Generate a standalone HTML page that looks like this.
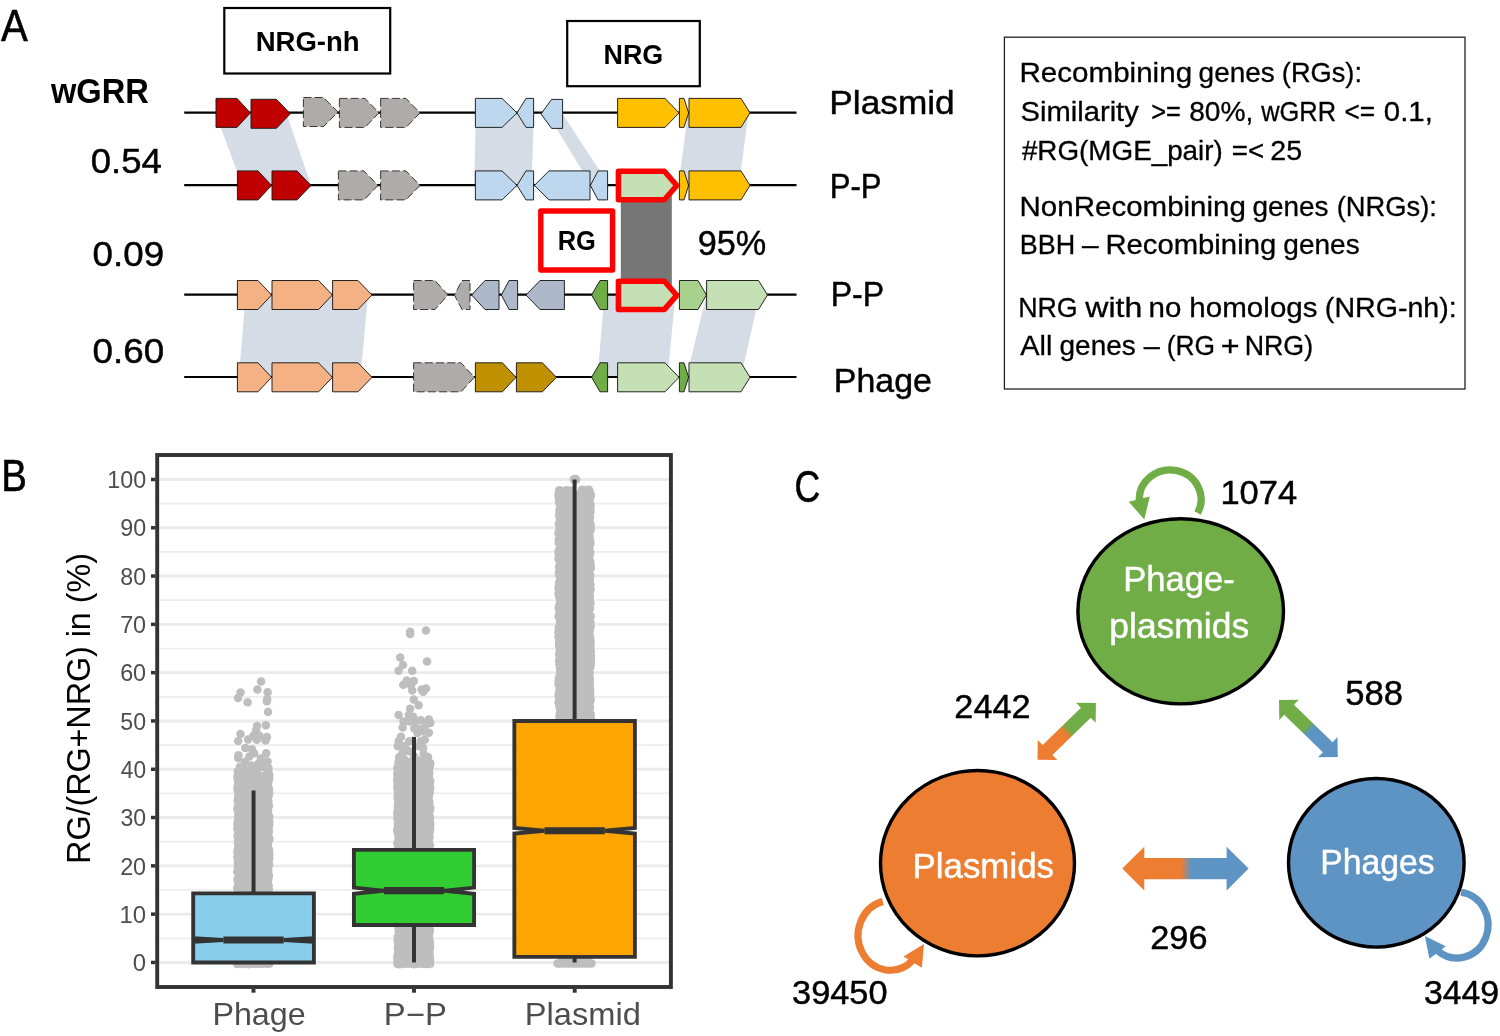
<!DOCTYPE html>
<html><head><meta charset="utf-8"><title>Figure</title>
<style>
html,body{margin:0;padding:0;background:#fff}
svg{display:block}
text{font-family:"Liberation Sans",sans-serif}
</style></head><body>
<svg width="1500" height="1036" viewBox="0 0 1500 1036">
<rect width="1500" height="1036" fill="#fff"/>
<polygon points="215.4,113 286.3,113 311,185 242,185" fill="#D6DCE5"/>
<polygon points="476,113 534,113 531.5,185 474,185" fill="#D6DCE5"/>
<polygon points="547,113 562,113 609,185 591,185" fill="#D6DCE5"/>
<polygon points="688,113 748.5,113 739,185 678.5,185" fill="#D6DCE5"/>
<polygon points="245.5,295 368,295 360.5,377 239,377" fill="#D6DCE5"/>
<polygon points="604.5,295 675.5,295 667.5,377 597.5,377" fill="#D6DCE5"/>
<polygon points="706.5,295 759.5,295 741,377 686.5,377" fill="#D6DCE5"/>
<rect x="620.8" y="190" width="51" height="100" fill="#767676"/>
<line x1="184.2" y1="112.6" x2="796.5" y2="112.6" stroke="#000" stroke-width="2.2"/>
<line x1="184.2" y1="185.1" x2="796.5" y2="185.1" stroke="#000" stroke-width="2.2"/>
<line x1="184.2" y1="294.7" x2="796.5" y2="294.7" stroke="#000" stroke-width="2.2"/>
<line x1="184.2" y1="377" x2="796.5" y2="377" stroke="#000" stroke-width="2.2"/>
<polygon points="216,98.4 237,98.4 250.4,112.9 237,127.4 216,127.4" fill="#C00000" stroke="#1a1a1a" stroke-width="0.95"/>
<polygon points="251,99.3 276.4,99.3 290.4,113.8 276.4,128.3 251,128.3" fill="#C00000" stroke="#1a1a1a" stroke-width="0.95"/>
<polygon points="303.4,97.5 323.6,97.5 338,112 323.6,126.5 303.4,126.5" fill="#AFABAB" stroke="#262626" stroke-width="0.9" stroke-dasharray="8 3.2"/>
<polygon points="339.4,98.4 365,98.4 379,112.9 365,127.4 339.4,127.4" fill="#AFABAB" stroke="#262626" stroke-width="0.9" stroke-dasharray="8 3.2"/>
<polygon points="380.6,98.4 406,98.4 420,112.9 406,127.4 380.6,127.4" fill="#AFABAB" stroke="#262626" stroke-width="0.9" stroke-dasharray="8 3.2"/>
<polygon points="475.4,98.4 502,98.4 517,112.9 502,127.4 475.4,127.4" fill="#BDD7EE" stroke="#1a1a1a" stroke-width="0.95"/>
<polygon points="533.6,98.4 526,98.4 517,112.9 526,127.4 533.6,127.4" fill="#BDD7EE" stroke="#1a1a1a" stroke-width="0.95"/>
<polygon points="562.6,99.4 551.6,99.4 541,113.9 551.6,128.4 562.6,128.4" fill="#BDD7EE" stroke="#1a1a1a" stroke-width="0.95"/>
<polygon points="617.6,98.4 665,98.4 679,112.9 665,127.4 617.6,127.4" fill="#FFC000" stroke="#1a1a1a" stroke-width="0.95"/>
<polygon points="679.4,98.4 684,98.4 688.6,112.9 684,127.4 679.4,127.4" fill="#FFC000" stroke="#1a1a1a" stroke-width="0.95"/>
<polygon points="689,98.4 741,98.4 750,112.9 741,127.4 689,127.4" fill="#FFC000" stroke="#1a1a1a" stroke-width="0.95"/>
<polygon points="237.4,170.9 258,170.9 271.6,185.4 258,199.9 237.4,199.9" fill="#C00000" stroke="#1a1a1a" stroke-width="0.95"/>
<polygon points="272,170.9 297,170.9 311,185.4 297,199.9 272,199.9" fill="#C00000" stroke="#1a1a1a" stroke-width="0.95"/>
<polygon points="338.4,170.9 364,170.9 378,185.4 364,199.9 338.4,199.9" fill="#AFABAB" stroke="#262626" stroke-width="0.9" stroke-dasharray="8 3.2"/>
<polygon points="380.6,170.9 406,170.9 420,185.4 406,199.9 380.6,199.9" fill="#AFABAB" stroke="#262626" stroke-width="0.9" stroke-dasharray="8 3.2"/>
<polygon points="475.4,170.9 502,170.9 517,185.4 502,199.9 475.4,199.9" fill="#BDD7EE" stroke="#1a1a1a" stroke-width="0.95"/>
<polygon points="533.6,170.9 526,170.9 517,185.4 526,199.9 533.6,199.9" fill="#BDD7EE" stroke="#1a1a1a" stroke-width="0.95"/>
<polygon points="590,170.9 549,170.9 534.4,185.4 549,199.9 590,199.9" fill="#BDD7EE" stroke="#1a1a1a" stroke-width="0.95"/>
<polygon points="607.6,170.9 598,170.9 590.4,185.4 598,199.9 607.6,199.9" fill="#BDD7EE" stroke="#1a1a1a" stroke-width="0.95"/>
<polygon points="679.4,170.9 684,170.9 688.6,185.4 684,199.9 679.4,199.9" fill="#FFC000" stroke="#1a1a1a" stroke-width="0.95"/>
<polygon points="689,170.9 741,170.9 750,185.4 741,199.9 689,199.9" fill="#FFC000" stroke="#1a1a1a" stroke-width="0.95"/>
<polygon points="618.4,171.3 664.4,171.3 676.8,185.55 664.4,199.8 618.4,199.8" fill="#C5E0B4" stroke="#FF0000" stroke-width="5.5" stroke-linejoin="round"/>
<polygon points="237.4,280.5 258,280.5 271.6,295 258,309.5 237.4,309.5" fill="#F4B183" stroke="#1a1a1a" stroke-width="0.95"/>
<polygon points="272,280.5 318.6,280.5 332.4,295 318.6,309.5 272,309.5" fill="#F4B183" stroke="#1a1a1a" stroke-width="0.95"/>
<polygon points="332.6,280.5 358,280.5 372,295 358,309.5 332.6,309.5" fill="#F4B183" stroke="#1a1a1a" stroke-width="0.95"/>
<polygon points="413.6,280.5 435,280.5 448,295 435,309.5 413.6,309.5" fill="#AFABAB" stroke="#262626" stroke-width="0.9" stroke-dasharray="8 3.2"/>
<polygon points="470,280.5 462,280.5 454.4,295 462,309.5 470,309.5" fill="#AFABAB" stroke="#262626" stroke-width="0.9" stroke-dasharray="8 3.2"/>
<polygon points="499,280.5 485,280.5 471.6,295 485,309.5 499,309.5" fill="#ADB9CA" stroke="#1a1a1a" stroke-width="0.95"/>
<polygon points="517.6,280.5 509,280.5 501.4,295 509,309.5 517.6,309.5" fill="#ADB9CA" stroke="#1a1a1a" stroke-width="0.95"/>
<polygon points="564.4,280.5 540,280.5 526,295 540,309.5 564.4,309.5" fill="#ADB9CA" stroke="#1a1a1a" stroke-width="0.95"/>
<polygon points="607.6,280.5 600,280.5 591.6,295 600,309.5 607.6,309.5" fill="#70AD47" stroke="#1a1a1a" stroke-width="0.95"/>
<polygon points="679.4,280.5 698,280.5 706.4,295 698,309.5 679.4,309.5" fill="#A9D18E" stroke="#1a1a1a" stroke-width="0.95"/>
<polygon points="706.6,280.5 758.5,280.5 767.5,295 758.5,309.5 706.6,309.5" fill="#C5E0B4" stroke="#1a1a1a" stroke-width="0.95"/>
<polygon points="618.4,281.3 664.4,281.3 676.8,295.35 664.4,309.4 618.4,309.4" fill="#C5E0B4" stroke="#FF0000" stroke-width="5.5" stroke-linejoin="round"/>
<polygon points="237.4,362.8 258,362.8 271.6,377.3 258,391.8 237.4,391.8" fill="#F4B183" stroke="#1a1a1a" stroke-width="0.95"/>
<polygon points="272,362.8 318.6,362.8 332.4,377.3 318.6,391.8 272,391.8" fill="#F4B183" stroke="#1a1a1a" stroke-width="0.95"/>
<polygon points="332.6,362.8 358,362.8 372,377.3 358,391.8 332.6,391.8" fill="#F4B183" stroke="#1a1a1a" stroke-width="0.95"/>
<polygon points="413.6,362.8 461,362.8 474.4,377.3 461,391.8 413.6,391.8" fill="#AFABAB" stroke="#262626" stroke-width="0.9" stroke-dasharray="8 3.2"/>
<polygon points="475.4,362.8 502.4,362.8 516,377.3 502.4,391.8 475.4,391.8" fill="#BF9000" stroke="#1a1a1a" stroke-width="0.95"/>
<polygon points="516.4,362.8 542.4,362.8 556.4,377.3 542.4,391.8 516.4,391.8" fill="#BF9000" stroke="#1a1a1a" stroke-width="0.95"/>
<polygon points="607.6,362.8 600,362.8 591.6,377.3 600,391.8 607.6,391.8" fill="#70AD47" stroke="#1a1a1a" stroke-width="0.95"/>
<polygon points="617.6,362.8 665,362.8 679,377.3 665,391.8 617.6,391.8" fill="#C5E0B4" stroke="#1a1a1a" stroke-width="0.95"/>
<polygon points="679.4,362.8 684,362.8 688.6,377.3 684,391.8 679.4,391.8" fill="#70AD47" stroke="#1a1a1a" stroke-width="0.95"/>
<polygon points="689,362.8 741,362.8 750,377.3 741,391.8 689,391.8" fill="#C5E0B4" stroke="#1a1a1a" stroke-width="0.95"/>
<rect x="224.3" y="8" width="165.9" height="65.5" fill="#fff" stroke="#000" stroke-width="2.2"/>
<rect x="567.2" y="21" width="132.6" height="65.2" fill="#fff" stroke="#000" stroke-width="2.2"/>
<rect x="540.8" y="211" width="71.8" height="59" fill="#fff" stroke="#FF0000" stroke-width="5.4" stroke-linejoin="round"/>
<rect x="1004.4" y="37.2" width="460.6" height="351.8" fill="#fff" stroke="#222" stroke-width="1.3"/>
<line x1="157.2" y1="962.45" x2="670.9" y2="962.45" stroke="#EBEBEB" stroke-width="2.9"/>
<line x1="157.2" y1="938.3" x2="670.9" y2="938.3" stroke="#EDEDED" stroke-width="1.7"/>
<line x1="157.2" y1="914.15" x2="670.9" y2="914.15" stroke="#EBEBEB" stroke-width="2.9"/>
<line x1="157.2" y1="890" x2="670.9" y2="890" stroke="#EDEDED" stroke-width="1.7"/>
<line x1="157.2" y1="865.85" x2="670.9" y2="865.85" stroke="#EBEBEB" stroke-width="2.9"/>
<line x1="157.2" y1="841.7" x2="670.9" y2="841.7" stroke="#EDEDED" stroke-width="1.7"/>
<line x1="157.2" y1="817.55" x2="670.9" y2="817.55" stroke="#EBEBEB" stroke-width="2.9"/>
<line x1="157.2" y1="793.4" x2="670.9" y2="793.4" stroke="#EDEDED" stroke-width="1.7"/>
<line x1="157.2" y1="769.25" x2="670.9" y2="769.25" stroke="#EBEBEB" stroke-width="2.9"/>
<line x1="157.2" y1="745.1" x2="670.9" y2="745.1" stroke="#EDEDED" stroke-width="1.7"/>
<line x1="157.2" y1="720.95" x2="670.9" y2="720.95" stroke="#EBEBEB" stroke-width="2.9"/>
<line x1="157.2" y1="696.8" x2="670.9" y2="696.8" stroke="#EDEDED" stroke-width="1.7"/>
<line x1="157.2" y1="672.65" x2="670.9" y2="672.65" stroke="#EBEBEB" stroke-width="2.9"/>
<line x1="157.2" y1="648.5" x2="670.9" y2="648.5" stroke="#EDEDED" stroke-width="1.7"/>
<line x1="157.2" y1="624.35" x2="670.9" y2="624.35" stroke="#EBEBEB" stroke-width="2.9"/>
<line x1="157.2" y1="600.2" x2="670.9" y2="600.2" stroke="#EDEDED" stroke-width="1.7"/>
<line x1="157.2" y1="576.05" x2="670.9" y2="576.05" stroke="#EBEBEB" stroke-width="2.9"/>
<line x1="157.2" y1="551.9" x2="670.9" y2="551.9" stroke="#EDEDED" stroke-width="1.7"/>
<line x1="157.2" y1="527.75" x2="670.9" y2="527.75" stroke="#EBEBEB" stroke-width="2.9"/>
<line x1="157.2" y1="503.6" x2="670.9" y2="503.6" stroke="#EDEDED" stroke-width="1.7"/>
<line x1="157.2" y1="479.45" x2="670.9" y2="479.45" stroke="#EBEBEB" stroke-width="2.9"/>
<rect x="236.75" y="772" width="33.1" height="191.6" fill="#BEBEBE"/>
<rect x="233.4" y="955" width="39.8" height="12.8" rx="3.5" fill="#BEBEBE"/>
<rect x="396.75" y="762" width="34.1" height="201.6" fill="#BEBEBE"/>
<rect x="393.4" y="955" width="40.8" height="12.8" rx="3.5" fill="#BEBEBE"/>
<rect x="557.95" y="492" width="33.5" height="230" fill="#BEBEBE"/>
<rect x="557.5" y="955" width="34" height="12.7" fill="#BEBEBE"/>
<g fill="#BEBEBE">
<circle cx="237.87" cy="771.3" r="4.25"/>
<circle cx="268.1" cy="771.14" r="4.25"/>
<circle cx="238.28" cy="774.33" r="4.25"/>
<circle cx="269.24" cy="774.61" r="4.25"/>
<circle cx="237.32" cy="777.07" r="4.25"/>
<circle cx="269.22" cy="776.38" r="4.25"/>
<circle cx="238.07" cy="780.45" r="4.25"/>
<circle cx="269.11" cy="779.25" r="4.25"/>
<circle cx="238.45" cy="783.3" r="4.25"/>
<circle cx="268.24" cy="782.19" r="4.25"/>
<circle cx="239.12" cy="784.09" r="4.25"/>
<circle cx="267.7" cy="784.58" r="4.25"/>
<circle cx="237.53" cy="786.84" r="4.25"/>
<circle cx="268.76" cy="788.23" r="4.25"/>
<circle cx="237.6" cy="790.36" r="4.25"/>
<circle cx="268.12" cy="789.94" r="4.25"/>
<circle cx="238.3" cy="791.93" r="4.25"/>
<circle cx="269.24" cy="792.21" r="4.25"/>
<circle cx="238.56" cy="795.26" r="4.25"/>
<circle cx="268.75" cy="795.57" r="4.25"/>
<circle cx="238.12" cy="797.6" r="4.25"/>
<circle cx="267.82" cy="798.4" r="4.25"/>
<circle cx="237.72" cy="800.75" r="4.25"/>
<circle cx="268.34" cy="801.35" r="4.25"/>
<circle cx="238.65" cy="802.78" r="4.25"/>
<circle cx="267.47" cy="802.44" r="4.25"/>
<circle cx="238.05" cy="806.31" r="4.25"/>
<circle cx="269.06" cy="805.78" r="4.25"/>
<circle cx="237.33" cy="808.74" r="4.25"/>
<circle cx="267.88" cy="808.55" r="4.25"/>
<circle cx="238.93" cy="810.63" r="4.25"/>
<circle cx="268.02" cy="811.19" r="4.25"/>
<circle cx="238.36" cy="813.51" r="4.25"/>
<circle cx="267.74" cy="814.49" r="4.25"/>
<circle cx="238.16" cy="816.53" r="4.25"/>
<circle cx="269.23" cy="816.6" r="4.25"/>
<circle cx="238.49" cy="819.79" r="4.25"/>
<circle cx="267.77" cy="818.37" r="4.25"/>
<circle cx="237.99" cy="821.74" r="4.25"/>
<circle cx="269.31" cy="821.32" r="4.25"/>
<circle cx="237.57" cy="823.23" r="4.25"/>
<circle cx="269.24" cy="824.54" r="4.25"/>
<circle cx="237.5" cy="826.1" r="4.25"/>
<circle cx="268.6" cy="827.34" r="4.25"/>
<circle cx="237.4" cy="829.1" r="4.25"/>
<circle cx="268.3" cy="829.97" r="4.25"/>
<circle cx="238.82" cy="832.53" r="4.25"/>
<circle cx="268.82" cy="831.63" r="4.25"/>
<circle cx="237.94" cy="835.17" r="4.25"/>
<circle cx="267.51" cy="833.7" r="4.25"/>
<circle cx="237.59" cy="836.46" r="4.25"/>
<circle cx="268.9" cy="836.97" r="4.25"/>
<circle cx="238.38" cy="839.13" r="4.25"/>
<circle cx="269.34" cy="839.44" r="4.25"/>
<circle cx="237.96" cy="842.33" r="4.25"/>
<circle cx="267.52" cy="842.58" r="4.25"/>
<circle cx="238.24" cy="845.04" r="4.25"/>
<circle cx="268.05" cy="843.91" r="4.25"/>
<circle cx="238.98" cy="847.96" r="4.25"/>
<circle cx="267.67" cy="848" r="4.25"/>
<circle cx="238" cy="849.8" r="4.25"/>
<circle cx="269.15" cy="850.27" r="4.25"/>
<circle cx="237.37" cy="851.73" r="4.25"/>
<circle cx="268.95" cy="851.92" r="4.25"/>
<circle cx="237.9" cy="854.31" r="4.25"/>
<circle cx="269.35" cy="854.5" r="4.25"/>
<circle cx="237.44" cy="857.53" r="4.25"/>
<circle cx="269.3" cy="858.55" r="4.25"/>
<circle cx="238.43" cy="859.7" r="4.25"/>
<circle cx="268.87" cy="860.09" r="4.25"/>
<circle cx="237.95" cy="862.25" r="4.25"/>
<circle cx="267.72" cy="863.99" r="4.25"/>
<circle cx="238.14" cy="865.57" r="4.25"/>
<circle cx="269.19" cy="864.8" r="4.25"/>
<circle cx="237.91" cy="867.73" r="4.25"/>
<circle cx="267.76" cy="867.52" r="4.25"/>
<circle cx="237.29" cy="871.7" r="4.25"/>
<circle cx="268.34" cy="870.09" r="4.25"/>
<circle cx="238.29" cy="872.45" r="4.25"/>
<circle cx="268.34" cy="874.36" r="4.25"/>
<circle cx="238.91" cy="876.39" r="4.25"/>
<circle cx="268.85" cy="875.73" r="4.25"/>
<circle cx="237.57" cy="879.14" r="4.25"/>
<circle cx="268.33" cy="879.16" r="4.25"/>
<circle cx="237.88" cy="880.65" r="4.25"/>
<circle cx="267.79" cy="882.17" r="4.25"/>
<circle cx="238.89" cy="884.41" r="4.25"/>
<circle cx="267.78" cy="884.28" r="4.25"/>
<circle cx="237.69" cy="886.44" r="4.25"/>
<circle cx="268.67" cy="885.46" r="4.25"/>
<circle cx="237.3" cy="888.56" r="4.25"/>
<circle cx="268.85" cy="889.39" r="4.25"/>
<circle cx="239.09" cy="891.49" r="4.25"/>
<circle cx="267.55" cy="892.58" r="4.25"/>
<circle cx="239.08" cy="893.93" r="4.25"/>
<circle cx="268.93" cy="893.65" r="4.25"/>
<circle cx="237.63" cy="896.21" r="4.25"/>
<circle cx="268.15" cy="897.6" r="4.25"/>
<circle cx="238.86" cy="899.36" r="4.25"/>
<circle cx="268.1" cy="900" r="4.25"/>
<circle cx="237.41" cy="902.32" r="4.25"/>
<circle cx="267.6" cy="902.56" r="4.25"/>
<circle cx="238.69" cy="904.56" r="4.25"/>
<circle cx="269.01" cy="905.18" r="4.25"/>
<circle cx="237.89" cy="907.8" r="4.25"/>
<circle cx="267.48" cy="906.99" r="4.25"/>
<circle cx="238.02" cy="910.69" r="4.25"/>
<circle cx="267.96" cy="909.14" r="4.25"/>
<circle cx="237.49" cy="911.7" r="4.25"/>
<circle cx="267.61" cy="913.01" r="4.25"/>
<circle cx="237.53" cy="915.65" r="4.25"/>
<circle cx="267.47" cy="915.31" r="4.25"/>
<circle cx="237.92" cy="917.7" r="4.25"/>
<circle cx="269.1" cy="916.63" r="4.25"/>
<circle cx="239.11" cy="920.5" r="4.25"/>
<circle cx="268.34" cy="921.07" r="4.25"/>
<circle cx="238.08" cy="923.54" r="4.25"/>
<circle cx="267.76" cy="922.22" r="4.25"/>
<circle cx="237.73" cy="924.99" r="4.25"/>
<circle cx="268.89" cy="925.57" r="4.25"/>
<circle cx="237.75" cy="927.84" r="4.25"/>
<circle cx="269.1" cy="928.82" r="4.25"/>
<circle cx="237.93" cy="930.52" r="4.25"/>
<circle cx="268.23" cy="931.41" r="4.25"/>
<circle cx="238.06" cy="934.04" r="4.25"/>
<circle cx="268.39" cy="933.26" r="4.25"/>
<circle cx="238.26" cy="934.84" r="4.25"/>
<circle cx="268.5" cy="935.17" r="4.25"/>
<circle cx="237.26" cy="939" r="4.25"/>
<circle cx="269.02" cy="938.35" r="4.25"/>
<circle cx="238.64" cy="941.11" r="4.25"/>
<circle cx="268.72" cy="941.04" r="4.25"/>
<circle cx="238.32" cy="944.17" r="4.25"/>
<circle cx="269.15" cy="943.72" r="4.25"/>
<circle cx="237.73" cy="945.75" r="4.25"/>
<circle cx="267.87" cy="946.22" r="4.25"/>
<circle cx="238.33" cy="949.32" r="4.25"/>
<circle cx="267.6" cy="948.69" r="4.25"/>
<circle cx="238.43" cy="951.41" r="4.25"/>
<circle cx="268.37" cy="951.79" r="4.25"/>
<circle cx="238.12" cy="954.07" r="4.25"/>
<circle cx="268.43" cy="954.88" r="4.25"/>
<circle cx="238.59" cy="957.35" r="4.25"/>
<circle cx="267.54" cy="956.12" r="4.25"/>
<circle cx="238.32" cy="960.09" r="4.25"/>
<circle cx="267.74" cy="958.47" r="4.25"/>
<circle cx="237.48" cy="961.68" r="4.25"/>
<circle cx="269.21" cy="961.28" r="4.25"/>
<circle cx="237.15" cy="964" r="4.25"/>
<circle cx="238.85" cy="771.49" r="4.25"/>
<circle cx="242.31" cy="964.04" r="4.25"/>
<circle cx="243.48" cy="767.71" r="4.25"/>
<circle cx="248.77" cy="964.27" r="4.25"/>
<circle cx="247.16" cy="771.76" r="4.25"/>
<circle cx="252.8" cy="963.84" r="4.25"/>
<circle cx="254.47" cy="771.16" r="4.25"/>
<circle cx="257.32" cy="963.79" r="4.25"/>
<circle cx="258.05" cy="768.7" r="4.25"/>
<circle cx="262.39" cy="963.69" r="4.25"/>
<circle cx="263.67" cy="767.1" r="4.25"/>
<circle cx="268.11" cy="963.8" r="4.25"/>
<circle cx="266.55" cy="768.66" r="4.25"/>
<circle cx="261.1" cy="681.6" r="4.25"/>
<circle cx="257.4" cy="689.5" r="4.25"/>
<circle cx="267.6" cy="692.2" r="4.25"/>
<circle cx="240.5" cy="692.4" r="4.25"/>
<circle cx="238.1" cy="698.1" r="4.25"/>
<circle cx="247.6" cy="702.3" r="4.25"/>
<circle cx="267.2" cy="699.2" r="4.25"/>
<circle cx="266.9" cy="701.2" r="4.25"/>
<circle cx="268" cy="712" r="4.25"/>
<circle cx="265.9" cy="725.3" r="4.25"/>
<circle cx="257" cy="725.9" r="4.25"/>
<circle cx="256.1" cy="730.3" r="4.25"/>
<circle cx="240.5" cy="734.1" r="4.25"/>
<circle cx="253.4" cy="735.7" r="4.25"/>
<circle cx="259.5" cy="735.7" r="4.25"/>
<circle cx="266.9" cy="737" r="4.25"/>
<circle cx="238.2" cy="741.1" r="4.25"/>
<circle cx="248" cy="739.5" r="4.25"/>
<circle cx="256.8" cy="739.7" r="4.25"/>
<circle cx="265.5" cy="740.4" r="4.25"/>
<circle cx="245.3" cy="748.1" r="4.25"/>
<circle cx="252" cy="749.2" r="4.25"/>
<circle cx="238.5" cy="755.3" r="4.25"/>
<circle cx="238.1" cy="758" r="4.25"/>
<circle cx="249.3" cy="756.6" r="4.25"/>
<circle cx="254.1" cy="753.2" r="4.25"/>
<circle cx="266.2" cy="753.2" r="4.25"/>
<circle cx="267.6" cy="761.4" r="4.25"/>
<circle cx="260.8" cy="758.6" r="4.25"/>
<circle cx="239.9" cy="766.8" r="4.25"/>
<circle cx="251.4" cy="765.4" r="4.25"/>
<circle cx="258.1" cy="764.1" r="4.25"/>
<circle cx="245" cy="762" r="4.25"/>
<circle cx="264" cy="766" r="4.25"/>
<circle cx="242" cy="770" r="4.25"/>
<circle cx="268.5" cy="768" r="4.25"/>
<circle cx="398.45" cy="762.02" r="4.25"/>
<circle cx="430.23" cy="762.97" r="4.25"/>
<circle cx="398.76" cy="765.54" r="4.25"/>
<circle cx="430.15" cy="764.13" r="4.25"/>
<circle cx="397.33" cy="767.76" r="4.25"/>
<circle cx="429.83" cy="766.46" r="4.25"/>
<circle cx="398.06" cy="770.62" r="4.25"/>
<circle cx="428.78" cy="769.32" r="4.25"/>
<circle cx="397.54" cy="773.24" r="4.25"/>
<circle cx="429.25" cy="772.8" r="4.25"/>
<circle cx="397.42" cy="774.12" r="4.25"/>
<circle cx="429.03" cy="774.85" r="4.25"/>
<circle cx="397.39" cy="778.48" r="4.25"/>
<circle cx="429.13" cy="778.2" r="4.25"/>
<circle cx="397.41" cy="780.91" r="4.25"/>
<circle cx="430.22" cy="780.93" r="4.25"/>
<circle cx="398.12" cy="782.48" r="4.25"/>
<circle cx="429.29" cy="783.65" r="4.25"/>
<circle cx="397.76" cy="784.66" r="4.25"/>
<circle cx="429.34" cy="784.88" r="4.25"/>
<circle cx="397.46" cy="787.32" r="4.25"/>
<circle cx="430.25" cy="787.4" r="4.25"/>
<circle cx="397.85" cy="790.21" r="4.25"/>
<circle cx="428.89" cy="790.18" r="4.25"/>
<circle cx="398.21" cy="792.56" r="4.25"/>
<circle cx="429.68" cy="792.24" r="4.25"/>
<circle cx="397.73" cy="794.83" r="4.25"/>
<circle cx="428.94" cy="795.9" r="4.25"/>
<circle cx="397.61" cy="798.35" r="4.25"/>
<circle cx="428.56" cy="797.61" r="4.25"/>
<circle cx="398.82" cy="800.86" r="4.25"/>
<circle cx="429.4" cy="801.67" r="4.25"/>
<circle cx="398" cy="803.61" r="4.25"/>
<circle cx="429.03" cy="804.56" r="4.25"/>
<circle cx="397.91" cy="806.86" r="4.25"/>
<circle cx="428.99" cy="806.47" r="4.25"/>
<circle cx="398.03" cy="808.5" r="4.25"/>
<circle cx="430.25" cy="808.06" r="4.25"/>
<circle cx="397.39" cy="811.88" r="4.25"/>
<circle cx="429.86" cy="810.73" r="4.25"/>
<circle cx="397.41" cy="814.68" r="4.25"/>
<circle cx="428.68" cy="814.34" r="4.25"/>
<circle cx="397.79" cy="816.08" r="4.25"/>
<circle cx="429.79" cy="816.52" r="4.25"/>
<circle cx="397.55" cy="819.09" r="4.25"/>
<circle cx="429.84" cy="820.12" r="4.25"/>
<circle cx="399.12" cy="821.89" r="4.25"/>
<circle cx="429.88" cy="822.73" r="4.25"/>
<circle cx="397.84" cy="824.11" r="4.25"/>
<circle cx="430.35" cy="824.16" r="4.25"/>
<circle cx="398.16" cy="827.01" r="4.25"/>
<circle cx="429.96" cy="827.01" r="4.25"/>
<circle cx="397.26" cy="829.13" r="4.25"/>
<circle cx="430.18" cy="829.4" r="4.25"/>
<circle cx="397.33" cy="831.24" r="4.25"/>
<circle cx="429.77" cy="831.67" r="4.25"/>
<circle cx="398.37" cy="834.86" r="4.25"/>
<circle cx="428.91" cy="835.12" r="4.25"/>
<circle cx="398.62" cy="838.16" r="4.25"/>
<circle cx="429.6" cy="837.05" r="4.25"/>
<circle cx="399.14" cy="839.3" r="4.25"/>
<circle cx="428.96" cy="840.29" r="4.25"/>
<circle cx="397.33" cy="843.27" r="4.25"/>
<circle cx="428.64" cy="842.85" r="4.25"/>
<circle cx="398.66" cy="845.82" r="4.25"/>
<circle cx="430.08" cy="845.25" r="4.25"/>
<circle cx="398.22" cy="848.47" r="4.25"/>
<circle cx="428.81" cy="848.45" r="4.25"/>
<circle cx="398.37" cy="851.19" r="4.25"/>
<circle cx="429.04" cy="850.79" r="4.25"/>
<circle cx="397.69" cy="852.06" r="4.25"/>
<circle cx="430.09" cy="852.72" r="4.25"/>
<circle cx="397.45" cy="856.27" r="4.25"/>
<circle cx="429.28" cy="855.86" r="4.25"/>
<circle cx="398.45" cy="858.56" r="4.25"/>
<circle cx="429.41" cy="857.21" r="4.25"/>
<circle cx="398.78" cy="861.3" r="4.25"/>
<circle cx="429.38" cy="860.87" r="4.25"/>
<circle cx="398.52" cy="862.53" r="4.25"/>
<circle cx="428.94" cy="862.9" r="4.25"/>
<circle cx="397.39" cy="865.53" r="4.25"/>
<circle cx="428.95" cy="865.41" r="4.25"/>
<circle cx="398.67" cy="869.55" r="4.25"/>
<circle cx="429.4" cy="868.37" r="4.25"/>
<circle cx="398.17" cy="871.57" r="4.25"/>
<circle cx="428.88" cy="871.43" r="4.25"/>
<circle cx="398.48" cy="872.95" r="4.25"/>
<circle cx="430.07" cy="873.31" r="4.25"/>
<circle cx="398.68" cy="876.01" r="4.25"/>
<circle cx="429.26" cy="875.42" r="4.25"/>
<circle cx="397.37" cy="878.54" r="4.25"/>
<circle cx="429.06" cy="879.38" r="4.25"/>
<circle cx="398.55" cy="881.18" r="4.25"/>
<circle cx="429.36" cy="881.53" r="4.25"/>
<circle cx="398.15" cy="883.44" r="4.25"/>
<circle cx="428.63" cy="883.6" r="4.25"/>
<circle cx="399.13" cy="887.67" r="4.25"/>
<circle cx="430.32" cy="886.72" r="4.25"/>
<circle cx="398.82" cy="890.34" r="4.25"/>
<circle cx="429.49" cy="888.94" r="4.25"/>
<circle cx="397.65" cy="892.89" r="4.25"/>
<circle cx="429.95" cy="892.16" r="4.25"/>
<circle cx="397.52" cy="894.65" r="4.25"/>
<circle cx="428.52" cy="893.87" r="4.25"/>
<circle cx="398.82" cy="897.22" r="4.25"/>
<circle cx="428.65" cy="897.61" r="4.25"/>
<circle cx="397.69" cy="900.6" r="4.25"/>
<circle cx="429.42" cy="898.85" r="4.25"/>
<circle cx="397.26" cy="902.38" r="4.25"/>
<circle cx="429.48" cy="902" r="4.25"/>
<circle cx="397.52" cy="904.69" r="4.25"/>
<circle cx="429.74" cy="905.68" r="4.25"/>
<circle cx="397.25" cy="908.1" r="4.25"/>
<circle cx="428.74" cy="906.84" r="4.25"/>
<circle cx="399.03" cy="910.63" r="4.25"/>
<circle cx="428.62" cy="909.78" r="4.25"/>
<circle cx="397.96" cy="912.59" r="4.25"/>
<circle cx="428.43" cy="912.98" r="4.25"/>
<circle cx="397.94" cy="915.26" r="4.25"/>
<circle cx="429.82" cy="914.5" r="4.25"/>
<circle cx="397.45" cy="918.67" r="4.25"/>
<circle cx="429.8" cy="918.87" r="4.25"/>
<circle cx="397.73" cy="920.13" r="4.25"/>
<circle cx="429.37" cy="919.98" r="4.25"/>
<circle cx="397.97" cy="924.11" r="4.25"/>
<circle cx="428.65" cy="923.82" r="4.25"/>
<circle cx="398.46" cy="926.63" r="4.25"/>
<circle cx="428.54" cy="925.9" r="4.25"/>
<circle cx="398.63" cy="927.5" r="4.25"/>
<circle cx="428.94" cy="928.3" r="4.25"/>
<circle cx="398.7" cy="931.29" r="4.25"/>
<circle cx="429.8" cy="930.1" r="4.25"/>
<circle cx="399.03" cy="932.85" r="4.25"/>
<circle cx="429.44" cy="933.29" r="4.25"/>
<circle cx="397.82" cy="936.68" r="4.25"/>
<circle cx="428.48" cy="935.72" r="4.25"/>
<circle cx="398.51" cy="938.4" r="4.25"/>
<circle cx="429.28" cy="938.59" r="4.25"/>
<circle cx="397.57" cy="940.72" r="4.25"/>
<circle cx="429.95" cy="942.21" r="4.25"/>
<circle cx="398.2" cy="943.44" r="4.25"/>
<circle cx="428.61" cy="944.99" r="4.25"/>
<circle cx="398.11" cy="945.88" r="4.25"/>
<circle cx="429.98" cy="945.78" r="4.25"/>
<circle cx="397.91" cy="948.38" r="4.25"/>
<circle cx="429.89" cy="948.72" r="4.25"/>
<circle cx="398.34" cy="952.57" r="4.25"/>
<circle cx="428.91" cy="951.63" r="4.25"/>
<circle cx="398.04" cy="954.45" r="4.25"/>
<circle cx="429.63" cy="954.08" r="4.25"/>
<circle cx="397.37" cy="956.56" r="4.25"/>
<circle cx="428.49" cy="956.25" r="4.25"/>
<circle cx="398.22" cy="959.86" r="4.25"/>
<circle cx="428.69" cy="959.03" r="4.25"/>
<circle cx="397.77" cy="961.7" r="4.25"/>
<circle cx="429.58" cy="962.09" r="4.25"/>
<circle cx="398.91" cy="964.16" r="4.25"/>
<circle cx="399.12" cy="757.11" r="4.25"/>
<circle cx="402.06" cy="964.04" r="4.25"/>
<circle cx="404.19" cy="759.37" r="4.25"/>
<circle cx="408.17" cy="963.4" r="4.25"/>
<circle cx="407.67" cy="761.63" r="4.25"/>
<circle cx="413.65" cy="964.17" r="4.25"/>
<circle cx="414.42" cy="758.24" r="4.25"/>
<circle cx="417.22" cy="963.54" r="4.25"/>
<circle cx="418.07" cy="760.41" r="4.25"/>
<circle cx="423.88" cy="964.05" r="4.25"/>
<circle cx="423.44" cy="760.82" r="4.25"/>
<circle cx="427.91" cy="963.9" r="4.25"/>
<circle cx="426.62" cy="760.91" r="4.25"/>
<circle cx="410.1" cy="631.7" r="4.25"/>
<circle cx="410.1" cy="634" r="4.25"/>
<circle cx="426" cy="630.5" r="4.25"/>
<circle cx="400.2" cy="657.6" r="4.25"/>
<circle cx="427" cy="661.4" r="4.25"/>
<circle cx="403" cy="665" r="4.25"/>
<circle cx="398.6" cy="670.7" r="4.25"/>
<circle cx="412.2" cy="670.7" r="4.25"/>
<circle cx="406.8" cy="680.6" r="4.25"/>
<circle cx="413.8" cy="680.9" r="4.25"/>
<circle cx="403.2" cy="684.7" r="4.25"/>
<circle cx="410.9" cy="685.5" r="4.25"/>
<circle cx="412.2" cy="690.4" r="4.25"/>
<circle cx="421.6" cy="689.6" r="4.25"/>
<circle cx="426" cy="688.5" r="4.25"/>
<circle cx="423.2" cy="691.7" r="4.25"/>
<circle cx="413.8" cy="699.5" r="4.25"/>
<circle cx="418.6" cy="705.2" r="4.25"/>
<circle cx="410.1" cy="708.8" r="4.25"/>
<circle cx="398.6" cy="715.1" r="4.25"/>
<circle cx="408.9" cy="715.1" r="4.25"/>
<circle cx="413.3" cy="716.7" r="4.25"/>
<circle cx="403.5" cy="721.6" r="4.25"/>
<circle cx="409.2" cy="721.6" r="4.25"/>
<circle cx="415" cy="721.6" r="4.25"/>
<circle cx="420.7" cy="720.3" r="4.25"/>
<circle cx="428.9" cy="719.6" r="4.25"/>
<circle cx="430.3" cy="722.9" r="4.25"/>
<circle cx="425.7" cy="724.9" r="4.25"/>
<circle cx="402.7" cy="727.4" r="4.25"/>
<circle cx="414.2" cy="728.2" r="4.25"/>
<circle cx="419.1" cy="729" r="4.25"/>
<circle cx="424" cy="731.5" r="4.25"/>
<circle cx="428.9" cy="732.8" r="4.25"/>
<circle cx="417.5" cy="733.1" r="4.25"/>
<circle cx="401" cy="736.7" r="4.25"/>
<circle cx="398.6" cy="741.3" r="4.25"/>
<circle cx="409.2" cy="741.3" r="4.25"/>
<circle cx="424.8" cy="739.7" r="4.25"/>
<circle cx="420.7" cy="741.3" r="4.25"/>
<circle cx="397.8" cy="746.2" r="4.25"/>
<circle cx="402.7" cy="752.8" r="4.25"/>
<circle cx="409.2" cy="751.2" r="4.25"/>
<circle cx="423.2" cy="747.9" r="4.25"/>
<circle cx="423.7" cy="754.1" r="4.25"/>
<circle cx="419.1" cy="746.2" r="4.25"/>
<circle cx="400" cy="757" r="4.25"/>
<circle cx="428" cy="757" r="4.25"/>
<circle cx="405" cy="746" r="4.25"/>
<circle cx="414" cy="756" r="4.25"/>
<circle cx="558.9" cy="492.84" r="4.25"/>
<circle cx="589.71" cy="491.61" r="4.25"/>
<circle cx="558.7" cy="494.1" r="4.25"/>
<circle cx="589.73" cy="495" r="4.25"/>
<circle cx="558.67" cy="496.34" r="4.25"/>
<circle cx="589.94" cy="497.37" r="4.25"/>
<circle cx="559.2" cy="499.25" r="4.25"/>
<circle cx="589.8" cy="498.82" r="4.25"/>
<circle cx="559.03" cy="502.32" r="4.25"/>
<circle cx="589.11" cy="502.69" r="4.25"/>
<circle cx="560.15" cy="504.95" r="4.25"/>
<circle cx="590.5" cy="504.49" r="4.25"/>
<circle cx="560.29" cy="508.01" r="4.25"/>
<circle cx="590.36" cy="506.64" r="4.25"/>
<circle cx="559.41" cy="510.55" r="4.25"/>
<circle cx="590.14" cy="509.71" r="4.25"/>
<circle cx="559.73" cy="513.65" r="4.25"/>
<circle cx="590.51" cy="511.87" r="4.25"/>
<circle cx="559.1" cy="515.24" r="4.25"/>
<circle cx="589.64" cy="514.8" r="4.25"/>
<circle cx="559.98" cy="518.48" r="4.25"/>
<circle cx="589.98" cy="517.41" r="4.25"/>
<circle cx="560.31" cy="520.22" r="4.25"/>
<circle cx="589.38" cy="520.06" r="4.25"/>
<circle cx="558.88" cy="523.72" r="4.25"/>
<circle cx="590.38" cy="524.1" r="4.25"/>
<circle cx="559.4" cy="525.17" r="4.25"/>
<circle cx="590.52" cy="525.63" r="4.25"/>
<circle cx="559.73" cy="529.3" r="4.25"/>
<circle cx="590.67" cy="528.19" r="4.25"/>
<circle cx="558.86" cy="531.95" r="4.25"/>
<circle cx="590.68" cy="530.1" r="4.25"/>
<circle cx="558.57" cy="533.39" r="4.25"/>
<circle cx="589.23" cy="534.37" r="4.25"/>
<circle cx="559.86" cy="537.2" r="4.25"/>
<circle cx="589.16" cy="535.86" r="4.25"/>
<circle cx="558.81" cy="539.67" r="4.25"/>
<circle cx="589.52" cy="537.86" r="4.25"/>
<circle cx="559.73" cy="541.16" r="4.25"/>
<circle cx="590.23" cy="541.06" r="4.25"/>
<circle cx="558.77" cy="543.01" r="4.25"/>
<circle cx="590.41" cy="543.7" r="4.25"/>
<circle cx="560.28" cy="545.85" r="4.25"/>
<circle cx="589.1" cy="546.01" r="4.25"/>
<circle cx="559.13" cy="549.84" r="4.25"/>
<circle cx="589.37" cy="549.06" r="4.25"/>
<circle cx="558.54" cy="551.75" r="4.25"/>
<circle cx="590.23" cy="552.64" r="4.25"/>
<circle cx="558.82" cy="554.13" r="4.25"/>
<circle cx="589.23" cy="553.46" r="4.25"/>
<circle cx="559.24" cy="557.62" r="4.25"/>
<circle cx="589.48" cy="556.08" r="4.25"/>
<circle cx="558.52" cy="558.73" r="4.25"/>
<circle cx="589.18" cy="559.11" r="4.25"/>
<circle cx="559.88" cy="563" r="4.25"/>
<circle cx="590.3" cy="561.74" r="4.25"/>
<circle cx="560.29" cy="565.03" r="4.25"/>
<circle cx="590.45" cy="565.23" r="4.25"/>
<circle cx="559.06" cy="566.95" r="4.25"/>
<circle cx="590.94" cy="567.91" r="4.25"/>
<circle cx="560.21" cy="570.27" r="4.25"/>
<circle cx="589.14" cy="569.05" r="4.25"/>
<circle cx="558.9" cy="572.55" r="4.25"/>
<circle cx="589.11" cy="573.51" r="4.25"/>
<circle cx="559.19" cy="574.7" r="4.25"/>
<circle cx="590.12" cy="575.19" r="4.25"/>
<circle cx="560.23" cy="577.17" r="4.25"/>
<circle cx="589.41" cy="578.28" r="4.25"/>
<circle cx="560.03" cy="580.95" r="4.25"/>
<circle cx="589.78" cy="580.06" r="4.25"/>
<circle cx="559.06" cy="582.72" r="4.25"/>
<circle cx="589.45" cy="582.16" r="4.25"/>
<circle cx="558.83" cy="586.11" r="4.25"/>
<circle cx="590.48" cy="584.73" r="4.25"/>
<circle cx="558.52" cy="588.31" r="4.25"/>
<circle cx="590.32" cy="589.16" r="4.25"/>
<circle cx="560.15" cy="591.78" r="4.25"/>
<circle cx="590.44" cy="589.97" r="4.25"/>
<circle cx="558.64" cy="593.4" r="4.25"/>
<circle cx="589.59" cy="593.29" r="4.25"/>
<circle cx="558.9" cy="595.83" r="4.25"/>
<circle cx="589.76" cy="596.35" r="4.25"/>
<circle cx="559.89" cy="599.29" r="4.25"/>
<circle cx="589.67" cy="597.84" r="4.25"/>
<circle cx="560.06" cy="600.79" r="4.25"/>
<circle cx="589.86" cy="600.95" r="4.25"/>
<circle cx="559.87" cy="603.2" r="4.25"/>
<circle cx="590.47" cy="603.29" r="4.25"/>
<circle cx="558.74" cy="607.17" r="4.25"/>
<circle cx="589.84" cy="606.05" r="4.25"/>
<circle cx="559.21" cy="609.98" r="4.25"/>
<circle cx="589.98" cy="608.46" r="4.25"/>
<circle cx="560" cy="611.91" r="4.25"/>
<circle cx="589.05" cy="610.8" r="4.25"/>
<circle cx="559.36" cy="614.84" r="4.25"/>
<circle cx="589.34" cy="615.03" r="4.25"/>
<circle cx="558.53" cy="616.39" r="4.25"/>
<circle cx="590.72" cy="616.18" r="4.25"/>
<circle cx="560.32" cy="619.57" r="4.25"/>
<circle cx="589.16" cy="619.14" r="4.25"/>
<circle cx="560.11" cy="621.9" r="4.25"/>
<circle cx="590.45" cy="622.56" r="4.25"/>
<circle cx="560.27" cy="623.81" r="4.25"/>
<circle cx="589.81" cy="624.84" r="4.25"/>
<circle cx="558.87" cy="626.94" r="4.25"/>
<circle cx="590.68" cy="626.61" r="4.25"/>
<circle cx="558.94" cy="630" r="4.25"/>
<circle cx="589.7" cy="629.21" r="4.25"/>
<circle cx="558.47" cy="632.05" r="4.25"/>
<circle cx="589.65" cy="631.77" r="4.25"/>
<circle cx="559.05" cy="634.41" r="4.25"/>
<circle cx="589.42" cy="635.1" r="4.25"/>
<circle cx="558.57" cy="636.8" r="4.25"/>
<circle cx="590.19" cy="637.7" r="4.25"/>
<circle cx="559.68" cy="639.38" r="4.25"/>
<circle cx="590.64" cy="640.59" r="4.25"/>
<circle cx="559.24" cy="642.37" r="4.25"/>
<circle cx="590.36" cy="643.71" r="4.25"/>
<circle cx="559.05" cy="645.53" r="4.25"/>
<circle cx="590.26" cy="645.23" r="4.25"/>
<circle cx="560.11" cy="648.99" r="4.25"/>
<circle cx="590.25" cy="647.39" r="4.25"/>
<circle cx="559.85" cy="650.01" r="4.25"/>
<circle cx="590.94" cy="651.4" r="4.25"/>
<circle cx="559.26" cy="653.84" r="4.25"/>
<circle cx="590.17" cy="653.97" r="4.25"/>
<circle cx="559.33" cy="655.13" r="4.25"/>
<circle cx="590.92" cy="655.9" r="4.25"/>
<circle cx="559.68" cy="659.22" r="4.25"/>
<circle cx="590.78" cy="658.64" r="4.25"/>
<circle cx="559.16" cy="661.01" r="4.25"/>
<circle cx="590.67" cy="660.57" r="4.25"/>
<circle cx="559.45" cy="664.45" r="4.25"/>
<circle cx="590.74" cy="663.58" r="4.25"/>
<circle cx="560" cy="667.13" r="4.25"/>
<circle cx="590.57" cy="665.45" r="4.25"/>
<circle cx="560.26" cy="669.75" r="4.25"/>
<circle cx="590.02" cy="667.91" r="4.25"/>
<circle cx="560.23" cy="671.18" r="4.25"/>
<circle cx="589.21" cy="671.64" r="4.25"/>
<circle cx="560.03" cy="673.32" r="4.25"/>
<circle cx="589.44" cy="673.44" r="4.25"/>
<circle cx="559.23" cy="677.29" r="4.25"/>
<circle cx="589.36" cy="675.97" r="4.25"/>
<circle cx="558.87" cy="679" r="4.25"/>
<circle cx="589.96" cy="678.97" r="4.25"/>
<circle cx="558.69" cy="681.29" r="4.25"/>
<circle cx="589.56" cy="682.59" r="4.25"/>
<circle cx="558.53" cy="684.52" r="4.25"/>
<circle cx="589.5" cy="683.48" r="4.25"/>
<circle cx="560.06" cy="686.24" r="4.25"/>
<circle cx="589.8" cy="687.1" r="4.25"/>
<circle cx="559.65" cy="689.21" r="4.25"/>
<circle cx="590.14" cy="689.77" r="4.25"/>
<circle cx="559.27" cy="692.52" r="4.25"/>
<circle cx="590.09" cy="692.08" r="4.25"/>
<circle cx="558.49" cy="695.04" r="4.25"/>
<circle cx="590.01" cy="694.27" r="4.25"/>
<circle cx="559.92" cy="697.96" r="4.25"/>
<circle cx="590.07" cy="696.76" r="4.25"/>
<circle cx="559.36" cy="699.21" r="4.25"/>
<circle cx="590.7" cy="699.86" r="4.25"/>
<circle cx="558.63" cy="702.48" r="4.25"/>
<circle cx="589.97" cy="701.68" r="4.25"/>
<circle cx="559.67" cy="704.36" r="4.25"/>
<circle cx="589.54" cy="705.76" r="4.25"/>
<circle cx="559.43" cy="706.91" r="4.25"/>
<circle cx="589.98" cy="707.56" r="4.25"/>
<circle cx="560.28" cy="709.67" r="4.25"/>
<circle cx="589.3" cy="711.39" r="4.25"/>
<circle cx="559.86" cy="713.63" r="4.25"/>
<circle cx="590.58" cy="713.96" r="4.25"/>
<circle cx="559.39" cy="716.51" r="4.25"/>
<circle cx="589.19" cy="714.93" r="4.25"/>
<circle cx="559.96" cy="719.06" r="4.25"/>
<circle cx="590.82" cy="717.9" r="4.25"/>
<circle cx="559.9" cy="720.12" r="4.25"/>
<circle cx="589.23" cy="720.35" r="4.25"/>
<circle cx="559.32" cy="490.24" r="4.25"/>
<circle cx="563" cy="491.02" r="4.25"/>
<circle cx="566.71" cy="490.36" r="4.25"/>
<circle cx="571.01" cy="490.42" r="4.25"/>
<circle cx="582" cy="489.74" r="4.25"/>
<circle cx="586" cy="489.88" r="4.25"/>
<circle cx="589" cy="489.86" r="4.25"/>
<circle cx="591" cy="495.2" r="4.25"/>
<circle cx="579.5" cy="494" r="4.25"/>
<circle cx="557.5" cy="963.6" r="4.25"/>
<circle cx="591.5" cy="963.6" r="4.25"/>
<ellipse cx="575" cy="479.4" rx="5.4" ry="4.7"/>
</g>
<line x1="253.55" y1="790.5" x2="253.55" y2="893.38" stroke="#333333" stroke-width="3.95"/>
<line x1="253.55" y1="962.45" x2="253.55" y2="962.45" stroke="#333333" stroke-width="3.95"/>
<polygon points="193.2,893.38 313.9,893.38 313.9,938.09 283.72,939.99 313.9,941.89 313.9,962.45 193.2,962.45 193.2,941.89 223.38,939.99 193.2,938.09" fill="#87CEEB" stroke="#333333" stroke-width="3.85" stroke-linejoin="miter" stroke-miterlimit="10"/>
<line x1="223.38" y1="939.99" x2="283.72" y2="939.99" stroke="#333333" stroke-width="7.2"/>
<line x1="414" y1="736.89" x2="414" y2="849.91" stroke="#333333" stroke-width="3.95"/>
<line x1="414" y1="925.02" x2="414" y2="962.45" stroke="#333333" stroke-width="3.95"/>
<polygon points="353.9,849.91 474.1,849.91 474.1,887.62 444.05,890.72 474.1,893.82 474.1,925.02 353.9,925.02 353.9,893.82 383.95,890.72 353.9,887.62" fill="#32CD32" stroke="#333333" stroke-width="3.85" stroke-linejoin="miter" stroke-miterlimit="10"/>
<line x1="383.95" y1="890.72" x2="444.05" y2="890.72" stroke="#333333" stroke-width="7.2"/>
<line x1="574.62" y1="479.45" x2="574.62" y2="720.95" stroke="#333333" stroke-width="3.95"/>
<line x1="574.62" y1="956.9" x2="574.62" y2="962.45" stroke="#333333" stroke-width="3.95"/>
<polygon points="514.35,720.95 634.9,720.95 634.9,827.94 604.76,830.74 634.9,833.54 634.9,956.9 514.35,956.9 514.35,833.54 544.49,830.74 514.35,827.94" fill="#FFA500" stroke="#333333" stroke-width="3.85" stroke-linejoin="miter" stroke-miterlimit="10"/>
<line x1="544.49" y1="830.74" x2="604.76" y2="830.74" stroke="#333333" stroke-width="7.2"/>
<rect x="157.2" y="455" width="513.7" height="532" fill="none" stroke="#333333" stroke-width="3.9"/>
<line x1="151" y1="962.45" x2="155.4" y2="962.45" stroke="#333333" stroke-width="3.5"/>
<line x1="151" y1="914.15" x2="155.4" y2="914.15" stroke="#333333" stroke-width="3.5"/>
<line x1="151" y1="865.85" x2="155.4" y2="865.85" stroke="#333333" stroke-width="3.5"/>
<line x1="151" y1="817.55" x2="155.4" y2="817.55" stroke="#333333" stroke-width="3.5"/>
<line x1="151" y1="769.25" x2="155.4" y2="769.25" stroke="#333333" stroke-width="3.5"/>
<line x1="151" y1="720.95" x2="155.4" y2="720.95" stroke="#333333" stroke-width="3.5"/>
<line x1="151" y1="672.65" x2="155.4" y2="672.65" stroke="#333333" stroke-width="3.5"/>
<line x1="151" y1="624.35" x2="155.4" y2="624.35" stroke="#333333" stroke-width="3.5"/>
<line x1="151" y1="576.05" x2="155.4" y2="576.05" stroke="#333333" stroke-width="3.5"/>
<line x1="151" y1="527.75" x2="155.4" y2="527.75" stroke="#333333" stroke-width="3.5"/>
<line x1="151" y1="479.45" x2="155.4" y2="479.45" stroke="#333333" stroke-width="3.5"/>
<line x1="253.5" y1="988.8" x2="253.5" y2="992.7" stroke="#333333" stroke-width="3.9"/>
<line x1="414" y1="988.8" x2="414" y2="992.7" stroke="#333333" stroke-width="3.9"/>
<line x1="574.7" y1="988.8" x2="574.7" y2="992.7" stroke="#333333" stroke-width="3.9"/>
<defs>
<linearGradient id="g1" gradientUnits="userSpaceOnUse" x1="1037.5" y1="759.8" x2="1095.9" y2="703"><stop offset="0.465" stop-color="#ED7D31"/><stop offset="0.545" stop-color="#70AD47"/></linearGradient>
<linearGradient id="g2" gradientUnits="userSpaceOnUse" x1="1279" y1="700.1" x2="1337.8" y2="756.9"><stop offset="0.465" stop-color="#70AD47"/><stop offset="0.545" stop-color="#5E94C3"/></linearGradient>
<linearGradient id="g3" gradientUnits="userSpaceOnUse" x1="1122.3" y1="868.6" x2="1248.6" y2="868.6"><stop offset="0.465" stop-color="#ED7D31"/><stop offset="0.545" stop-color="#5E94C3"/></linearGradient>
</defs>
<polygon points="1037.5,759.8 1057.33,760.11 1052.42,755.06 1090.74,717.78 1095.66,722.83 1095.9,703 1076.07,702.69 1080.98,707.74 1042.66,745.02 1037.74,739.97" fill="url(#g1)"/>
<polygon points="1279,700.1 1279.31,719.93 1284.21,714.86 1322.87,752.21 1317.97,757.28 1337.8,756.9 1337.49,737.07 1332.59,742.14 1293.93,704.79 1298.83,699.72" fill="url(#g2)"/>
<polygon points="1122.3,868.6 1144.3,890.45 1144.3,879.25 1226.6,879.25 1226.6,890.45 1248.6,868.6 1226.6,846.75 1226.6,857.95 1144.3,857.95 1144.3,846.75" fill="url(#g3)"/>
<ellipse cx="1180.7" cy="611.3" rx="102.8" ry="92.6" fill="#70AD47" stroke="#000" stroke-width="3.4"/>
<ellipse cx="977.5" cy="863.2" rx="97" ry="92.7" fill="#ED7D31" stroke="#000" stroke-width="3.4"/>
<ellipse cx="1376.3" cy="862.8" rx="87.8" ry="84.3" fill="#5E94C3" stroke="#000" stroke-width="3.4"/>
<path d="M1197.5,513.07 A30.9,29.4 0 1 0 1139.4,501.66" fill="none" stroke="#70AD47" stroke-width="7.3"/>
<polygon points="1128.7,501.7 1149.8,496.5 1144.3,519.5" fill="#70AD47"/>
<path d="M882.8,901.49 A32.1,34.85 0 1 0 912.7,960.26" fill="none" stroke="#ED7D31" stroke-width="7.1"/>
<polygon points="903.5,956.4 921.9,967.7 924,944.1" fill="#ED7D31"/>
<path d="M1461,892.27 A31.1,33 0 1 1 1437.6,950.79" fill="none" stroke="#5E94C3" stroke-width="7.1"/>
<polygon points="1445.8,946.3 1429.4,958.8 1424.9,935.9" fill="#5E94C3"/>
<text x="1.1" y="40.6" font-size="44.48" textLength="26.78" lengthAdjust="spacingAndGlyphs" fill="#000" stroke="#000" stroke-width="0.6">A</text>
<text x="50.96" y="103.3" font-size="34.88" textLength="97.9" lengthAdjust="spacingAndGlyphs" fill="#000" font-weight="bold">wGRR</text>
<text x="255.71" y="50.8" font-size="27.91" textLength="103.96" lengthAdjust="spacingAndGlyphs" fill="#000" font-weight="bold">NRG-nh</text>
<text x="603.55" y="63.8" font-size="28.49" textLength="59.7" lengthAdjust="spacingAndGlyphs" fill="#000" font-weight="bold">NRG</text>
<text x="90.82" y="173.2" font-size="35.61" textLength="71.03" lengthAdjust="spacingAndGlyphs" fill="#000" stroke="#000" stroke-width="0.45">0.54</text>
<text x="92.61" y="265.5" font-size="35.61" textLength="71.48" lengthAdjust="spacingAndGlyphs" fill="#000" stroke="#000" stroke-width="0.45">0.09</text>
<text x="92.61" y="362.9" font-size="35.61" textLength="71.62" lengthAdjust="spacingAndGlyphs" fill="#000" stroke="#000" stroke-width="0.45">0.60</text>
<text x="829.38" y="114.2" font-size="34.01" textLength="125.27" lengthAdjust="spacingAndGlyphs" fill="#000" stroke="#000" stroke-width="0.45">Plasmid</text>
<text x="829.71" y="198.3" font-size="34.16" textLength="51.91" lengthAdjust="spacingAndGlyphs" fill="#000" stroke="#000" stroke-width="0.45">P-P</text>
<text x="830.74" y="306.2" font-size="34.16" textLength="53.43" lengthAdjust="spacingAndGlyphs" fill="#000" stroke="#000" stroke-width="0.45">P-P</text>
<text x="833.79" y="391.8" font-size="33.43" textLength="98.11" lengthAdjust="spacingAndGlyphs" fill="#000" stroke="#000" stroke-width="0.45">Phage</text>
<text x="557.65" y="250.4" font-size="27.91" textLength="38.12" lengthAdjust="spacingAndGlyphs" fill="#000" font-weight="bold">RG</text>
<text x="697.66" y="254.5" font-size="34.88" textLength="68.51" lengthAdjust="spacingAndGlyphs" fill="#000" stroke="#000" stroke-width="0.45">95%</text>
<text x="1019.53" y="82.2" font-size="26.89" textLength="172.57" lengthAdjust="spacingAndGlyphs" fill="#000" stroke="#000" stroke-width="0.3">Recombining</text>
<text x="1198.58" y="82.2" font-size="26.89" textLength="76.2" lengthAdjust="spacingAndGlyphs" fill="#000" stroke="#000" stroke-width="0.3">genes</text>
<text x="1281.87" y="82.2" font-size="26.89" textLength="80.12" lengthAdjust="spacingAndGlyphs" fill="#000" stroke="#000" stroke-width="0.3">(RGs):</text>
<text x="1020.59" y="121.2" font-size="26.89" textLength="118.21" lengthAdjust="spacingAndGlyphs" fill="#000" stroke="#000" stroke-width="0.3">Similarity</text>
<text x="1151.16" y="121.2" font-size="26.89" textLength="29.65" lengthAdjust="spacingAndGlyphs" fill="#000" stroke="#000" stroke-width="0.3">&gt;=</text>
<text x="1189.17" y="121.2" font-size="26.89" textLength="64.2" lengthAdjust="spacingAndGlyphs" fill="#000" stroke="#000" stroke-width="0.3">80%,</text>
<text x="1261.13" y="121.2" font-size="26.89" textLength="74.95" lengthAdjust="spacingAndGlyphs" fill="#000" stroke="#000" stroke-width="0.3">wGRR</text>
<text x="1344.57" y="121.2" font-size="26.89" textLength="30.57" lengthAdjust="spacingAndGlyphs" fill="#000" stroke="#000" stroke-width="0.3">&lt;=</text>
<text x="1383.87" y="121.2" font-size="26.89" textLength="49.01" lengthAdjust="spacingAndGlyphs" fill="#000" stroke="#000" stroke-width="0.3">0.1,</text>
<text x="1021.9" y="159.8" font-size="26.89" textLength="200.91" lengthAdjust="spacingAndGlyphs" fill="#000" stroke="#000" stroke-width="0.3">#RG(MGE_pair)</text>
<text x="1231.68" y="159.8" font-size="26.89" textLength="32.42" lengthAdjust="spacingAndGlyphs" fill="#000" stroke="#000" stroke-width="0.3">=&lt;</text>
<text x="1270.27" y="159.8" font-size="26.89" textLength="31.81" lengthAdjust="spacingAndGlyphs" fill="#000" stroke="#000" stroke-width="0.3">25</text>
<text x="1019.54" y="215.8" font-size="26.89" textLength="226.37" lengthAdjust="spacingAndGlyphs" fill="#000" stroke="#000" stroke-width="0.3">NonRecombining</text>
<text x="1252.48" y="215.8" font-size="26.89" textLength="76.09" lengthAdjust="spacingAndGlyphs" fill="#000" stroke="#000" stroke-width="0.3">genes</text>
<text x="1336.76" y="215.8" font-size="26.89" textLength="100.14" lengthAdjust="spacingAndGlyphs" fill="#000" stroke="#000" stroke-width="0.3">(NRGs):</text>
<text x="1019.74" y="254" font-size="26.89" textLength="55.44" lengthAdjust="spacingAndGlyphs" fill="#000" stroke="#000" stroke-width="0.3">BBH</text>
<text x="1081.9" y="254" font-size="26.89" textLength="16.68" lengthAdjust="spacingAndGlyphs" fill="#000" stroke="#000" stroke-width="0.3">–</text>
<text x="1105.46" y="254" font-size="26.89" textLength="170.73" lengthAdjust="spacingAndGlyphs" fill="#000" stroke="#000" stroke-width="0.3">Recombining</text>
<text x="1283.38" y="254" font-size="26.89" textLength="76.3" lengthAdjust="spacingAndGlyphs" fill="#000" stroke="#000" stroke-width="0.3">genes</text>
<text x="1018.15" y="316.8" font-size="26.89" textLength="59.6" lengthAdjust="spacingAndGlyphs" fill="#000" stroke="#000" stroke-width="0.3">NRG</text>
<text x="1085.36" y="316.8" font-size="26.89" textLength="57" lengthAdjust="spacingAndGlyphs" fill="#000" stroke="#000" stroke-width="0.3">with</text>
<text x="1148.58" y="316.8" font-size="26.89" textLength="32.83" lengthAdjust="spacingAndGlyphs" fill="#000" stroke="#000" stroke-width="0.3">no</text>
<text x="1189.38" y="316.8" font-size="26.89" textLength="128.16" lengthAdjust="spacingAndGlyphs" fill="#000" stroke="#000" stroke-width="0.3">homologs</text>
<text x="1324.88" y="316.8" font-size="26.89" textLength="131.83" lengthAdjust="spacingAndGlyphs" fill="#000" stroke="#000" stroke-width="0.3">(NRG-nh):</text>
<text x="1020.3" y="355.3" font-size="26.89" textLength="32.1" lengthAdjust="spacingAndGlyphs" fill="#000" stroke="#000" stroke-width="0.3">All</text>
<text x="1059.58" y="355.3" font-size="26.89" textLength="76.09" lengthAdjust="spacingAndGlyphs" fill="#000" stroke="#000" stroke-width="0.3">genes</text>
<text x="1143.8" y="355.3" font-size="26.89" textLength="16.09" lengthAdjust="spacingAndGlyphs" fill="#000" stroke="#000" stroke-width="0.3">–</text>
<text x="1166.82" y="355.3" font-size="26.89" textLength="48.3" lengthAdjust="spacingAndGlyphs" fill="#000" stroke="#000" stroke-width="0.3">(RG</text>
<text x="1220.85" y="355.3" font-size="26.89" textLength="18.83" lengthAdjust="spacingAndGlyphs" fill="#000" stroke="#000" stroke-width="0.3">+</text>
<text x="1244.66" y="355.3" font-size="26.89" textLength="68.39" lengthAdjust="spacingAndGlyphs" fill="#000" stroke="#000" stroke-width="0.3">NRG)</text>
<text x="132.86" y="971.15" font-size="23.98" textLength="13.3" lengthAdjust="spacingAndGlyphs" fill="#4D4D4D">0</text>
<text x="119.5" y="922.85" font-size="23.98" textLength="26.66" lengthAdjust="spacingAndGlyphs" fill="#4D4D4D">10</text>
<text x="120.13" y="874.55" font-size="23.98" textLength="26.01" lengthAdjust="spacingAndGlyphs" fill="#4D4D4D">20</text>
<text x="120.49" y="826.25" font-size="23.98" textLength="25.64" lengthAdjust="spacingAndGlyphs" fill="#4D4D4D">30</text>
<text x="120.85" y="777.95" font-size="23.98" textLength="25.28" lengthAdjust="spacingAndGlyphs" fill="#4D4D4D">40</text>
<text x="120.37" y="729.65" font-size="23.98" textLength="25.76" lengthAdjust="spacingAndGlyphs" fill="#4D4D4D">50</text>
<text x="120.13" y="681.35" font-size="23.98" textLength="26.01" lengthAdjust="spacingAndGlyphs" fill="#4D4D4D">60</text>
<text x="120.13" y="633.05" font-size="23.98" textLength="26.01" lengthAdjust="spacingAndGlyphs" fill="#4D4D4D">70</text>
<text x="120.37" y="584.75" font-size="23.98" textLength="25.76" lengthAdjust="spacingAndGlyphs" fill="#4D4D4D">80</text>
<text x="120.25" y="536.45" font-size="23.98" textLength="25.89" lengthAdjust="spacingAndGlyphs" fill="#4D4D4D">90</text>
<text x="107.15" y="488.15" font-size="23.98" textLength="39" lengthAdjust="spacingAndGlyphs" fill="#4D4D4D">100</text>
<text x="212.42" y="1025" font-size="31.1" textLength="93.31" lengthAdjust="spacingAndGlyphs" fill="#4D4D4D">Phage</text>
<text x="383.88" y="1025" font-size="31.1" textLength="62.93" lengthAdjust="spacingAndGlyphs" fill="#4D4D4D">P−P</text>
<text x="524.79" y="1025" font-size="31.1" textLength="116" lengthAdjust="spacingAndGlyphs" fill="#4D4D4D">Plasmid</text>
<text transform="translate(89.5 863.88) rotate(-90)" x="0" y="0" font-size="32.41" textLength="310.75" lengthAdjust="spacingAndGlyphs" fill="#000">RG/(RG+NRG) in (%)</text>
<text x="1.22" y="490.5" font-size="44.48" textLength="25.68" lengthAdjust="spacingAndGlyphs" fill="#000" stroke="#000" stroke-width="0.6">B</text>
<text x="794.42" y="502.4" font-size="45.06" textLength="25.7" lengthAdjust="spacingAndGlyphs" fill="#000" stroke="#000" stroke-width="0.6">C</text>
<text x="1220.41" y="503.6" font-size="33.43" textLength="76.79" lengthAdjust="spacingAndGlyphs" fill="#000" stroke="#000" stroke-width="0.45">1074</text>
<text x="954.39" y="717.9" font-size="33.43" textLength="76.19" lengthAdjust="spacingAndGlyphs" fill="#000" stroke="#000" stroke-width="0.45">2442</text>
<text x="1345.32" y="704.6" font-size="34.16" textLength="57.71" lengthAdjust="spacingAndGlyphs" fill="#000" stroke="#000" stroke-width="0.45">588</text>
<text x="1150.29" y="949.1" font-size="33.87" textLength="57.23" lengthAdjust="spacingAndGlyphs" fill="#000" stroke="#000" stroke-width="0.45">296</text>
<text x="792.1" y="1004" font-size="32.7" textLength="95.44" lengthAdjust="spacingAndGlyphs" fill="#000" stroke="#000" stroke-width="0.45">39450</text>
<text x="1423.92" y="1004.1" font-size="32.7" textLength="75.14" lengthAdjust="spacingAndGlyphs" fill="#000" stroke="#000" stroke-width="0.45">3449</text>
<text x="1123.23" y="591.3" font-size="34.88" textLength="111.66" lengthAdjust="spacingAndGlyphs" fill="#fff" stroke="#fff" stroke-width="0.45">Phage-</text>
<text x="1109.37" y="637.6" font-size="34.88" textLength="139.77" lengthAdjust="spacingAndGlyphs" fill="#fff" stroke="#fff" stroke-width="0.45">plasmids</text>
<text x="912.51" y="878.4" font-size="34.88" textLength="141.51" lengthAdjust="spacingAndGlyphs" fill="#fff" stroke="#fff" stroke-width="0.45">Plasmids</text>
<text x="1320.3" y="874.3" font-size="34.16" textLength="114.27" lengthAdjust="spacingAndGlyphs" fill="#fff" stroke="#fff" stroke-width="0.45">Phages</text>
</svg>
</body></html>
